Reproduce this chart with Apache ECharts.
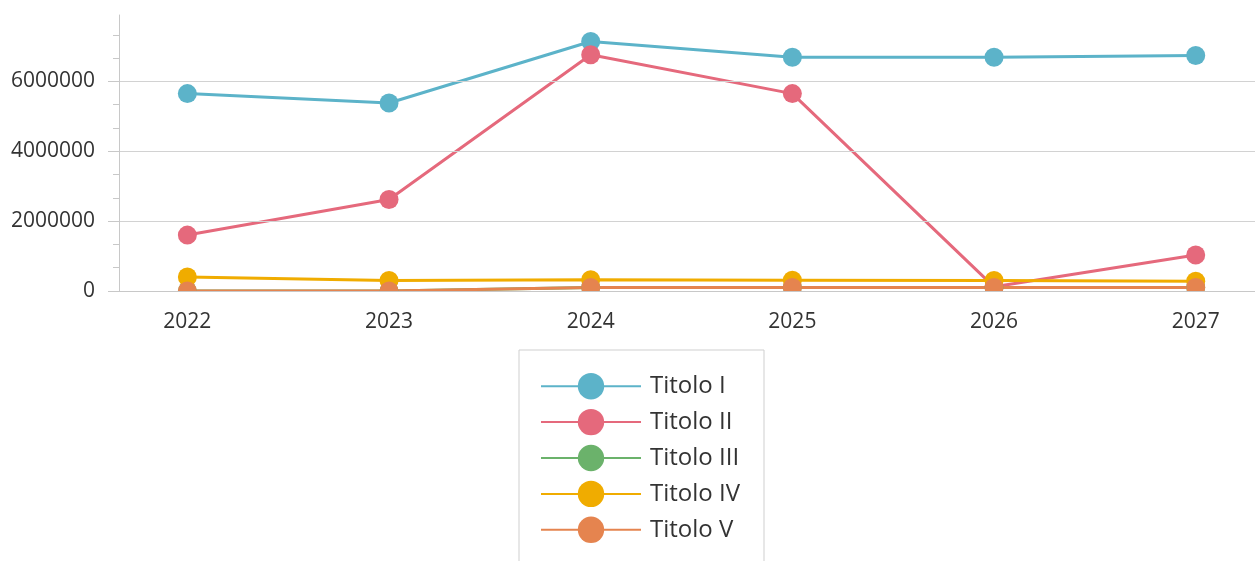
<!doctype html>
<html>
<head>
<meta charset="utf-8" />
<title>Titolo</title>
<script src="https://cdn.jsdelivr.net/npm/echarts@6/dist/echarts.min.js"></script>
<style>
  html, body { margin: 0; padding: 0; background: #fff; }
  #main { width: 1255px; height: 561px; }
</style>
</head>
<body>
<div id="main"></div>
<script>
// anni sull'asse x
var years = [2022, 2023, 2024, 2025, 2026, 2027];
var yTicks = [0, 2000000, 4000000, 6000000];

// valori
var titolo1 = [5650000, 5380000, 7140000, 6690000, 6690000, 6740000];
var titolo2 = [1600000, 2620000, 6760000, 5650000, 120000, 1030000];
var titolo3 = [0, 0, 100000, 100000, 100000, 100000];
var titolo4 = [400000, 300000, 320000, 310000, 300000, 280000];
var titolo5 = [0, 0, 100000, 100000, 100000, 100000];

var names = ['Titolo I', 'Titolo II', 'Titolo III', 'Titolo IV', 'Titolo V'];
var values = [titolo1, titolo2, titolo3, titolo4, titolo5];
var colors = ['#5cb3c9', '#e5697c', '#6bb26b', '#f0ac00', '#e5844f'];

var font = '"Open Sans", "Noto Sans", sans-serif';

function pairs(v) {
  return years.map(function (y, i) { return [y, v[i]]; });
}

var series = [];
for (var i = 0; i < names.length; i++) {
  series.push({
    name: names[i],
    type: 'line',
    z: 2,
    data: pairs(values[i]),
    symbol: 'circle',
    symbolSize: 19,
    showAllSymbol: true,
    lineStyle: { width: 3, color: colors[i] },
    itemStyle: { color: colors[i] },
    emphasis: { disabled: true }
  });
}

var myChart = echarts.init(document.getElementById('main'));

var option = {
  animation: false,
  color: colors,
  grid: { left: 119, right: 0, top: 15, bottom: 270, containLabel: false },
  xAxis: {
    type: 'value',
    min: 2021.661,
    max: 2027.294,
    z: 10,
    splitLine: { show: false },
    axisLine: { show: true, lineStyle: { color: '#c8c8c8', width: 1 } },
    axisTick: { show: true, length: 9, customValues: years, lineStyle: { color: '#c8c8c8' } },
    axisLabel: {
      customValues: years,
      margin: 21,
      color: '#333',
      fontSize: 21,
      fontFamily: font,
      formatter: function (v) { return String(v); }
    }
  },
  yAxis: {
    type: 'value',
    min: 0,
    max: 7900000,
    interval: 2000000,
    z: 10,
    axisLine: { show: true, lineStyle: { color: '#c8c8c8', width: 1 } },
    axisTick: { show: true, length: 11, customValues: yTicks, lineStyle: { color: '#c8c8c8' } },
    minorTick: { show: true, splitNumber: 3, length: 6, lineStyle: { color: '#c8c8c8' } },
    splitLine: { show: true, lineStyle: { color: '#d2d2d2', width: 1 } },
    axisLabel: {
      customValues: yTicks,
      margin: 24,
      color: '#333',
      fontSize: 21,
      fontFamily: font,
      formatter: function (v) { return String(v); }
    }
  },
  legend: {
    data: names,
    orient: 'vertical',
    left: 519,
    top: 350,
    height: 320,
    padding: [23, 24, 19, 21],
    itemWidth: 100,
    itemHeight: 33,
    itemGap: 9.5,
    borderColor: '#cfcfcf',
    borderWidth: 1,
    selectedMode: false,
    lineStyle: { width: 2 },
    textStyle: { color: '#333', fontSize: 24, fontFamily: font, padding: [0, 0, 0, 4] }
  },
  // striscia bianca sotto l'asse: i cerchi a quota zero risultano tagliati
  graphic: [{
    type: 'rect',
    z: 100,
    silent: true,
    left: 120,
    bottom: 257,
    shape: { width: 1135, height: 12 },
    style: { fill: '#fff' }
  }],
  series: series
};

myChart.setOption(option);
</script>
</body>
</html>
